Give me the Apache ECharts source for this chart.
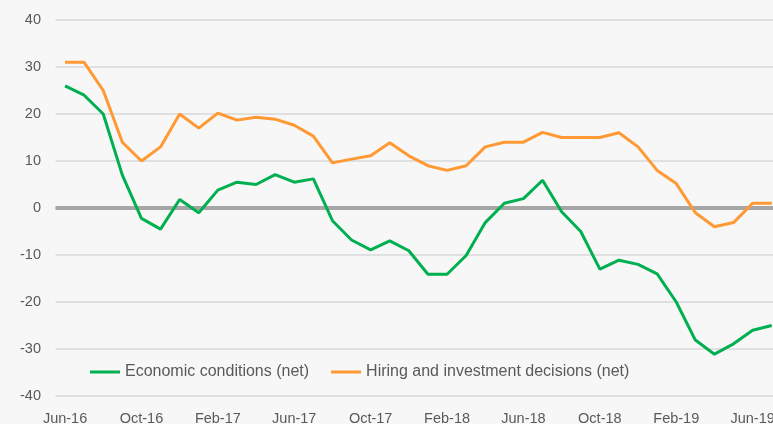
<!DOCTYPE html>
<html>
<head>
<meta charset="utf-8">
<script src="https://cdn.jsdelivr.net/npm/echarts@6/dist/echarts.min.js"></script>
<style>
html,body{margin:0;padding:0;background:#f7f7f7;}
#chart{width:773px;height:424px;}
</style>
</head>
<body>
<div id="chart"></div>
<script>
var months = ['Jun-16','Jul-16','Aug-16','Sep-16','Oct-16','Nov-16','Dec-16','Jan-17','Feb-17','Mar-17','Apr-17','May-17',
  'Jun-17','Jul-17','Aug-17','Sep-17','Oct-17','Nov-17','Dec-17','Jan-18','Feb-18','Mar-18','Apr-18','May-18',
  'Jun-18','Jul-18','Aug-18','Sep-18','Oct-18','Nov-18','Dec-18','Jan-19','Feb-19','Mar-19','Apr-19','May-19',
  'Jun-19','Jul-19'];
var economic = [26,24,20,7,-2.2,-4.5,1.8,-1,3.8,5.5,5,7.1,
  5.5,6.2,-2.7,-6.8,-8.9,-7,-9.1,-14.1,-14.1,-10.1,-3.1,1,
  2,5.9,-0.8,-5,-13,-11.1,-12,-14,-20,-28.1,-31.1,-28.9,
  -26,-25];
var hiring = [31,31,25,14,10,13,20,17,20.2,18.7,19.3,18.9,
  17.6,15.3,9.6,10.4,11.1,13.9,11.1,9,8,9,13,14,
  14,16.1,15,15,15,16,13,8,5.2,-1,-4,-3.1,
  1,1];
var yTicks = {min:-40, max:40, interval:10};
var seriesNames = ['Economic conditions (net)','Hiring and investment decisions (net)'];

var chart = echarts.init(document.getElementById('chart'));
var labelColor = '#595959';
chart.setOption({
  backgroundColor:'#f7f7f7',
  animation:false,
  textStyle:{fontFamily:'Liberation Sans, Arial, sans-serif'},
  grid:{left:55.5, width:725.8, top:20, height:376, containLabel:false, outerBoundsMode:'none'},
  legend:{
    left:85, top:359, itemWidth:30, itemHeight:3, itemGap:22, icon:'rect',
    textStyle:{fontSize:16, color:labelColor, fontFamily:'Liberation Sans, Arial, sans-serif'},
    data:seriesNames
  },
  xAxis:{
    type:'category', data:months, boundaryGap:true,
    axisLine:{show:false}, axisTick:{show:false},
    axisLabel:{interval:3, fontSize:14.5, color:labelColor, margin:15},
    splitLine:{show:false}
  },
  yAxis:{
    type:'value', min:yTicks.min, max:yTicks.max, interval:yTicks.interval,
    axisLine:{show:false}, axisTick:{show:false},
    axisLabel:{fontSize:14.5, color:labelColor, margin:14.5},
    splitLine:{lineStyle:{color:'#d9d9d9', width:1.5}}
  },
  series:[
    {
      name:seriesNames[0], type:'line', data:economic, symbol:'none', z:3,
      lineStyle:{color:'#00b050', width:3}, itemStyle:{color:'#00b050'},
      markLine:{silent:true, symbol:'none', label:{show:false}, z:1,
        lineStyle:{color:'#a6a6a6', width:4, type:'solid'}, data:[{yAxis:0}]}
    },
    {
      name:seriesNames[1], type:'line', data:hiring, symbol:'none', z:3,
      lineStyle:{color:'#ff9933', width:3}, itemStyle:{color:'#ff9933'}
    }
  ]
});
</script>
</body>
</html>
